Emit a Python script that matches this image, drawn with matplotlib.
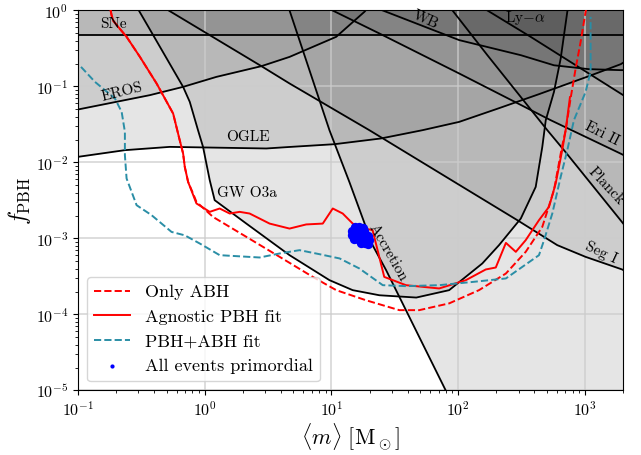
import numpy as np
import matplotlib.pyplot as plt

plt.rcParams['font.family'] = 'serif'
plt.rcParams['font.serif'] = ['cmr10']
plt.rcParams['mathtext.fontset'] = 'cm'
plt.rcParams['axes.formatter.use_mathtext'] = True

# ---------------- constraint curves (m [Msun], f_PBH) ----------------
sne_m = [0.1, 2000]
sne_f = [0.48, 0.48]

eros_m = [0.1, 0.369, 0.675, 1.236, 2.80, 4.67, 10.9, 18.2, 18.6]
eros_f = [0.0498, 0.0769, 0.0988, 0.1337, 0.185, 0.245, 0.45, 0.96, 1.0]

ogle_m = [0.1, 0.2344, 0.530, 3.06, 4.67, 10.56, 24.6, 52.3, 101.8, 210, 434, 1074, 1919, 2000]
ogle_f = [0.01186, 0.01452, 0.01604, 0.01528, 0.0160, 0.0174, 0.0207, 0.0266, 0.0342,
          0.0518, 0.0792, 0.1367, 0.1965, 0.205]

gw_m = [0.302, 0.392, 0.675, 0.762, 0.885, 0.970, 1.095, 1.198, 2.13, 4.67, 9.64, 14.7,
        23.9, 46.7, 84.9, 155, 210, 312, 409, 461, 491, 570, 644, 726, 735]
gw_f = [1.0, 0.473, 0.0988, 0.0627, 0.0266, 0.0160, 5.85e-3, 3.19e-3, 1.57e-3, 6.03e-4,
        2.83e-4, 2.09e-4, 1.79e-4, 1.67e-4, 2.09e-4, 4.69e-4, 8.17e-4, 1.83e-3, 4.77e-3,
        0.0160, 0.0360, 0.0849, 0.233, 0.96, 1.05]

acc_m = [4.67, 9.64, 13.87, 21.1, 27.0, 80.0, 2000]
acc_f = [1.0, 0.0266, 5.5e-3, 8.17e-4, 3.83e-4, 9.9e-6, 1e-9]

eri_m = [10.2, 23.9, 102, 537, 1910, 2000]
eri_f = [1.0, 0.498, 0.148, 0.0360, 0.0131, 0.0126]

wb_m = [25.4, 102, 312, 570, 1074, 1910, 2000]
wb_f = [1.0, 0.407, 0.258, 0.19, 0.169, 0.164, 0.164]

lya_m = [170, 373, 1910, 2000]
lya_f = [1.0, 0.45, 0.0809, 0.0771]

planck_m = [90.2, 170, 505, 684, 1910, 2000]
planck_f = [1.0, 0.258, 0.0266, 0.0145, 1.74e-3, 1.58e-3]

segi_m = [0.519, 2.80, 4.67, 19.9, 93.1, 293, 605, 1012, 1967, 2000]
segi_f = [1.0, 0.185, 0.1095, 0.0266, 5.56e-3, 1.74e-3, 8.17e-4, 5.73e-4, 3.91e-4, 3.85e-4]

# ---------------- fits ----------------
agn_m = [0.181, 0.184, 0.190, 0.2076, 0.2417, 0.308, 0.417, 0.563, 0.635, 0.675, 0.696,
         0.739, 0.860, 1.095, 1.312, 1.574, 1.887, 2.26, 3.25, 4.67, 6.32, 8.54, 10.24,
         12.27, 14.72, 18.2, 21.1, 26.1, 38.7, 70.8, 115, 165, 198, 238, 285, 341, 434,
         521, 588, 662, 705, 748, 762]
agn_f = [1.0, 0.867, 0.730, 0.608, 0.450, 0.245, 0.1095, 0.0441, 0.0196, 0.01313, 0.00875,
         0.00556, 0.00289, 0.00224, 0.00248, 0.00213, 0.00224, 0.00213, 0.00157, 0.00135,
         0.00153, 0.00157, 0.00248, 0.00213, 0.00157, 0.00135, 0.00129, 3.12e-4, 2.43e-4,
         2.20e-4, 2.83e-4, 3.91e-4, 4.15e-4, 8.75e-4, 6.67e-4, 9.5e-4, 1.74e-3, 2.61e-3,
         5.29e-3, 0.0145, 0.0266, 0.0568, 0.0723]

abh_m = [0.181, 0.184, 0.190, 0.2076, 0.2417, 0.308, 0.417, 0.563, 0.635, 0.675, 0.696,
         0.739, 0.809, 0.860, 1.163, 2.13, 3.90, 7.13, 10.9, 18.7, 34.3, 49.3, 84.9, 146,
         238, 341, 461, 570, 659, 705, 771, 845, 925, 1013, 1030]
abh_f = [1.0, 0.867, 0.730, 0.608, 0.450, 0.245, 0.1095, 0.0441, 0.0196, 0.01313, 0.00875,
         0.00556, 0.00391, 0.00303, 0.00192, 1.05e-3, 5.73e-4, 3.12e-4, 2.09e-4, 1.54e-4,
         1.14e-4, 1.14e-4, 1.40e-4, 2.09e-4, 3.46e-4, 6.67e-4, 1.42e-3, 4.32e-3, 0.016,
         0.0266, 0.0695, 0.1725, 0.386, 0.96, 1.07]

mix_m = [0.1056, 0.136, 0.1956, 0.221, 0.2344, 0.2344, 0.2417, 0.290, 0.380, 0.547, 0.696,
         0.913, 1.312, 2.71, 3.90, 5.60, 8.05, 11.6, 16.6, 25.4, 38.7, 70.8, 130, 238, 434,
         476, 553, 644, 726, 819, 1013, 1109, 1109]
mix_f = [0.181, 0.115, 0.0695, 0.0463, 0.0253, 0.01247, 0.00616, 0.00274, 0.00203, 0.00122,
         0.00110, 8.59e-4, 6.03e-4, 5.62e-4, 6.35e-4, 7.02e-4, 6.21e-4, 5.46e-4, 4.03e-4,
         2.43e-4, 2.36e-4, 2.43e-4, 2.68e-4, 2.98e-4, 6.03e-4, 9.5e-4, 2.13e-3, 6.47e-3,
         0.0145, 0.036, 0.0849, 0.156, 0.824]

# all events primordial (posterior samples)
ev_m = [15.46, 16.62, 17.87, 14.64, 15.74, 16.92, 18.19, 14.64, 15.74, 16.92, 18.19, 19.55,
        15.18, 16.32, 17.55, 18.86, 19.91, 17.23, 18.52, 19.55]
ev_f = [1.41e-3, 1.41e-3, 1.37e-3, 1.25e-3, 1.25e-3, 1.25e-3, 1.25e-3, 1.10e-3, 1.10e-3,
        1.10e-3, 1.10e-3, 1.07e-3, 9.8e-4, 9.8e-4, 9.8e-4, 9.8e-4, 9.5e-4, 8.67e-4, 8.67e-4,
        8.41e-4]

fig, ax = plt.subplots(figsize=(6.41, 4.55), dpi=100)
fig.subplots_adjust(left=0.1217, right=0.972, bottom=0.1418, top=0.977)

bounds = [(sne_m, sne_f), (eros_m, eros_f), (ogle_m, ogle_f), (gw_m, gw_f),
          (acc_m, acc_f), (eri_m, eri_f), (wb_m, wb_f), (lya_m, lya_f),
          (planck_m, planck_f), (segi_m, segi_f)]
for m, f in bounds:
    ax.fill_between(m, f, 10, color='k', alpha=0.1, lw=0)
    ax.plot(m, f, color='k', lw=1.3)

teal = '#2a8ea6'
l1, = ax.plot(abh_m, abh_f, color='red', ls='--', lw=1.4, zorder=3, label='Only ABH')
l2, = ax.plot(agn_m, agn_f, color='red', ls='-', lw=1.4, zorder=3, label='Agnostic PBH fit')
l3, = ax.plot(mix_m, mix_f, color=teal, ls='--', lw=1.4, zorder=3, label='PBH+ABH fit')
sc = ax.scatter(ev_m, ev_f, s=45, color='blue', lw=0, zorder=4, label='All events primordial')

# labels of the bounds
fs = 11
ax.text(0.19, 0.667, 'SNe', fontsize=fs, ha='center', va='center')
ax.text(0.221, 0.0829, 'EROS', fontsize=fs, ha='center', va='center', rotation=14)
ax.text(2.18, 0.0215, 'OGLE', fontsize=fs, ha='center', va='center')
ax.text(1.24, 0.00394, 'GW O3a', fontsize=fs, ha='left', va='center')
ax.text(54.9, 0.745, 'WB', fontsize=fs, ha='center', va='center', rotation=-24)
ax.text(337, 0.79, r'Ly$-\alpha$', fontsize=fs, ha='center', va='center')
ax.text(1362, 0.0236, 'Eri II', fontsize=fs, ha='center', va='center', rotation=-27)
ax.text(1463, 0.00488, 'Planck', fontsize=fs, ha='center', va='center', rotation=-47)
ax.text(1331, 0.00064, 'Seg I', fontsize=fs, ha='center', va='center', rotation=-25)
ax.text(27.6, 0.00064, 'Accretion', fontsize=fs, ha='center', va='center', rotation=-60)

ax.set_xscale('log')
ax.set_yscale('log')
ax.set_xlim(0.1, 2000)
ax.set_ylim(1e-5, 1)
ax.grid(True, which='major', color='#cccccc', alpha=0.8, lw=1.2)
ax.tick_params(labelsize=11.5)
ax.set_xlabel(r'$\langle m\rangle\ [\mathrm{M}_\odot]$', fontsize=16, labelpad=2)
ax.set_ylabel(r'$f_{\rm PBH}$', fontsize=17, labelpad=2)

ax.legend(handles=[l1, l2, l3, sc], loc='lower left', fontsize=13, markerscale=0.45)

fig.savefig('out.png', dpi=100)
